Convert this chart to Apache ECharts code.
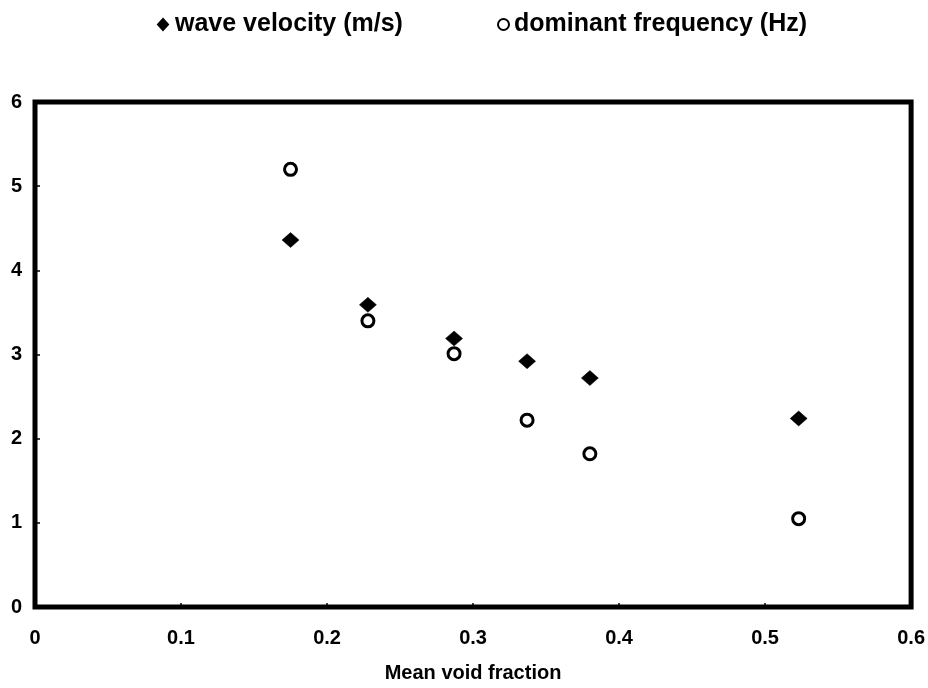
<!DOCTYPE html>
<html>
<head>
<meta charset="utf-8">
<script src="https://cdn.jsdelivr.net/npm/echarts@6/dist/echarts.min.js"></script>
<style>
html,body{margin:0;padding:0;background:#fff;}
#chart{width:928px;height:688px;}
</style>
</head>
<body>
<div id="chart"></div>
<script>
// Data
var voidFraction = [0.175, 0.228, 0.287, 0.337, 0.380, 0.523];
var waveVelocity = [4.36, 3.59, 3.19, 2.92, 2.72, 2.24];
var dominantFrequency = [5.20, 3.40, 3.01, 2.22, 1.82, 1.05];
var velocityName = 'wave velocity (m/s)';
var frequencyName = 'dominant frequency (Hz)';
var xAxisName = 'Mean void fraction';

function pairs(xs, ys) {
  return xs.map(function (x, i) { return [x, ys[i]]; });
}

var FONT = '"Liberation Sans", Arial, Helvetica, sans-serif';
var chart = echarts.init(document.getElementById('chart'), null, {renderer: 'canvas'});
chart.setOption({
  backgroundColor: '#ffffff',
  animation: false,
  grid: {
    left: 35, right: 16, top: 102, bottom: 76,
    show: true, borderColor: '#000', borderWidth: 5, backgroundColor: 'transparent'
  },
  legend: [
    {
      data: [{name: velocityName, icon: 'diamond'}],
      left: 152, top: 7,
      itemWidth: 10, itemHeight: 11,
      textStyle: {fontFamily: FONT, fontWeight: 'bold', fontSize: 25, color: '#000', padding: [0, 0, 0, 2]}
    },
    {
      data: [{name: frequencyName, icon: 'circle'}],
      left: 492, top: 7,
      itemWidth: 11, itemHeight: 11,
      textStyle: {fontFamily: FONT, fontWeight: 'bold', fontSize: 25, color: '#000', padding: [0, 0, 0, 0]}
    }
  ],
  xAxis: {
    type: 'value', min: 0, max: 0.6, interval: 0.1,
    name: xAxisName, nameLocation: 'middle', nameGap: 56,
    nameTextStyle: {fontFamily: FONT, fontWeight: 'bold', fontSize: 20, color: '#000'},
    axisLine: {show: false},
    axisTick: {show: true, inside: true, length: 4, lineStyle: {color: '#000', width: 1.5}},
    splitLine: {show: false},
    axisLabel: {fontFamily: FONT, fontWeight: 'bold', fontSize: 20, color: '#000', margin: 21,
      formatter: function (v) { return String(Math.round(v * 10) / 10); }}
  },
  yAxis: {
    type: 'value', min: 0, max: 6, interval: 1,
    axisLine: {show: false},
    axisTick: {show: true, inside: true, length: 5, lineStyle: {color: '#000', width: 1.5}},
    splitLine: {show: false},
    axisLabel: {fontFamily: FONT, fontWeight: 'bold', fontSize: 20, color: '#000', margin: 13}
  },
  series: [
    {
      name: velocityName, type: 'scatter',
      data: pairs(voidFraction, waveVelocity),
      symbol: 'diamond', symbolSize: [17, 15],
      itemStyle: {color: '#000', borderColor: '#000', borderWidth: 0.5, opacity: 1}
    },
    {
      name: frequencyName, type: 'scatter',
      data: pairs(voidFraction, dominantFrequency),
      symbol: 'circle', symbolSize: 12,
      itemStyle: {color: '#fff', borderColor: '#000', borderWidth: 3, opacity: 1}
    }
  ]
});
</script>
</body>
</html>
